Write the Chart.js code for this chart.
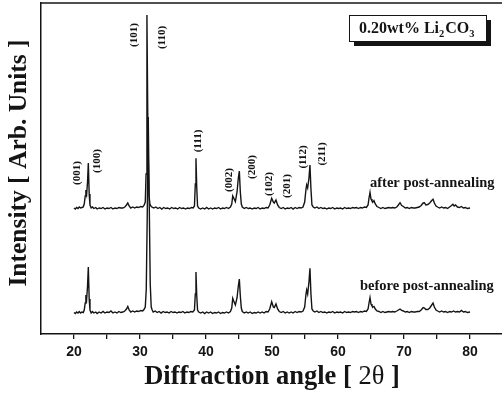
<!DOCTYPE html>
<html>
<head>
<meta charset="utf-8">
<script src="https://cdn.jsdelivr.net/npm/chart.js@4/dist/chart.umd.min.js"></script>
<style>
  html, body { margin: 0; padding: 0; background: #fff; overflow: hidden; width: 502px; height: 393px; }
  canvas { display: block; }
</style>
</head>
<body>
<canvas id="xrd" width="506" height="393"></canvas>
<script>
// 2θ (deg) vs. intensity (arb. units), 0.20 wt% Li2CO3 sample
const beforeTrace = [
  [20.0,21.5],[20.2,20.5],[20.4,22],[20.6,21],[20.8,22.5],[21.0,21],[21.2,22],[21.4,21.5],
  [21.55,24],[21.7,31],[21.8,39],[21.92,35],[22.05,48],[22.17,67],[22.3,35],[22.42,24],
  [22.6,21],[22.8,22.5],[23.0,21],[23.3,22],[23.5,20.5],[23.8,22],[24.1,21],[24.4,22.5],
  [24.7,21],[25.0,22],[25.3,21.5],[25.6,23],[25.9,21],[26.2,22],[26.5,21],[26.8,22.5],
  [27.1,21.5],[27.4,22],[27.7,23],[27.95,25],[28.15,27.5],[28.35,24],[28.6,22],[28.9,23],
  [29.2,22],[29.5,23],[29.8,22.5],[30.1,23.5],[30.4,23],[30.6,24.5],[30.8,27],[30.95,45],
  [31.1,120],[31.25,217],[31.4,130],[31.55,50],[31.7,27],[31.85,24],[32.0,22],[32.3,23],
  [32.6,21.5],[32.9,22.5],[33.2,21],[33.5,22.5],[33.8,21.5],[34.1,22],[34.4,21],[34.7,22.5],
  [35.0,21.5],[35.3,22],[35.6,21],[35.9,22],[36.2,21.5],[36.5,22.5],[36.8,21],[37.1,22],
  [37.4,21.5],[37.7,22.5],[38.0,22],[38.25,24],[38.38,40],[38.48,62],[38.6,38],[38.72,24],
  [38.9,22],[39.2,21],[39.5,22],[39.8,20.5],[40.1,22],[40.4,21],[40.7,22],[41.0,20.5],
  [41.3,21.5],[41.6,21],[41.9,22],[42.2,20.5],[42.5,21.5],[42.8,21],[43.1,22],[43.4,21],
  [43.7,22.5],[43.9,26],[44.05,35.7],[44.2,33],[44.45,29],[44.7,36],[44.9,48],[45.05,55],
  [45.2,38],[45.35,26],[45.5,22.5],[45.8,21],[46.1,22],[46.4,21],[46.7,22],[47.0,20.5],
  [47.3,21.5],[47.6,21],[47.9,22],[48.2,21],[48.5,22],[48.8,21],[49.1,22.5],[49.4,22],
  [49.65,25],[49.95,32.3],[50.2,27],[50.35,26.5],[50.6,30],[50.85,25],[51.1,22.5],[51.4,21.5],
  [51.7,22.5],[52.0,21],[52.3,22],[52.6,21],[52.9,22],[53.2,21],[53.5,22.5],[53.8,21.5],
  [54.1,22.5],[54.4,22],[54.7,23],[54.95,27],[55.15,40],[55.25,44],[55.4,40],[55.6,52],
  [55.75,65.7],[55.9,40],[56.05,25],[56.25,23],[56.5,22],[56.8,23],[57.1,21.5],[57.4,22.5],
  [57.7,21.5],[58.0,22],[58.3,21],[58.6,22],[58.9,21.5],[59.2,22.5],[59.5,21],[59.8,22],
  [60.1,21.5],[60.4,22],[60.7,21],[61.0,22.5],[61.3,21.5],[61.6,22],[61.9,21.5],[62.2,22.5],
  [62.5,22],[62.8,22.5],[63.1,21.5],[63.4,22.5],[63.7,22],[64.0,23],[64.3,22.5],[64.55,25],
  [64.7,31],[64.85,36.3],[65.0,30],[65.15,28],[65.3,27],[65.45,27.5],[65.65,25],[65.9,23],
  [66.2,22.5],[66.5,21.5],[66.8,22.5],[67.1,21.5],[67.4,22],[67.7,22.5],[68.0,22],[68.3,22.5],
  [68.6,22],[68.9,23],[69.15,24],[69.4,25],[69.65,23.5],[69.9,23],[70.2,22],[70.5,22.5],
  [70.8,21.5],[71.1,22.5],[71.4,22],[71.7,22],[72.0,22.5],[72.3,22.5],[72.6,24],[72.9,26.5],
  [73.1,26],[73.3,24.5],[73.6,24.5],[73.9,26],[74.2,29],[74.4,31],[74.6,27],[74.85,24],
  [75.1,23],[75.4,22],[75.7,23],[76.0,22],[76.3,22.5],[76.6,21.5],[76.9,22.5],[77.2,22],
  [77.5,23],[77.8,22],[78.1,22.5],[78.4,22],[78.7,23.5],[79.0,22],[79.3,22.5],[79.6,21.5],
  [80.0,22]
];

const afterTrace = [
  [20.0,126],[20.2,125],[20.4,126.5],[20.6,125.5],[20.8,127],[21.0,126],[21.2,126.5],[21.4,127],
  [21.55,130],[21.7,138],[21.8,144],[21.92,140],[22.05,152],[22.17,171],[22.3,140],[22.42,129],
  [22.6,126],[22.8,127],[23.0,125.5],[23.3,126.5],[23.5,125],[23.8,126],[24.1,125.5],[24.4,126.5],
  [24.7,125],[25.0,126],[25.3,125.5],[25.6,126.5],[25.9,125],[26.2,126],[26.5,125.5],[26.8,126.5],
  [27.1,126],[27.4,126],[27.7,127],[27.95,129],[28.15,131],[28.35,128],[28.6,126],[28.9,127],
  [29.2,126],[29.5,127],[29.8,126.5],[30.1,127.5],[30.4,127],[30.6,128.5],[30.8,132],[30.92,160],
  [31.05,319],[31.2,200],[31.35,140],[31.5,130],[31.7,127.5],[31.9,126.5],[32.1,126],[32.4,127],
  [32.7,125.5],[33.0,126.5],[33.3,125],[33.6,126.5],[33.9,125.5],[34.2,126],[34.5,125],[34.8,126.5],
  [35.1,125.5],[35.4,126],[35.7,125],[36.0,126.5],[36.3,125.5],[36.6,126],[36.9,125],[37.2,126],
  [37.5,125.5],[37.8,126.5],[38.05,126],[38.25,128],[38.38,150],[38.48,175.7],[38.6,146],[38.72,128],
  [38.9,126],[39.2,125],[39.5,126],[39.8,125],[40.1,126.5],[40.4,125],[40.7,126],[41.0,125],
  [41.3,126],[41.6,125.5],[41.9,126.5],[42.2,125],[42.5,126],[42.8,125.5],[43.1,126.5],[43.4,125.5],
  [43.7,127],[43.9,130],[44.05,138],[44.2,136],[44.45,132.3],[44.7,142],[44.9,156],[45.05,163],
  [45.2,142],[45.35,130],[45.5,127],[45.8,125.5],[46.1,126.5],[46.4,125.5],[46.7,126],[47.0,125],
  [47.3,126],[47.6,125.5],[47.9,126.5],[48.2,125],[48.5,126],[48.8,125.5],[49.1,126.5],[49.4,126],
  [49.65,129],[49.95,135.7],[50.2,132],[50.35,131],[50.6,134],[50.85,129],[51.1,126.5],[51.4,125.5],
  [51.7,126.5],[52.0,125],[52.3,126],[52.6,125.5],[52.9,126.5],[53.2,125],[53.5,126.5],[53.8,125.5],
  [54.1,126.5],[54.4,126],[54.7,127],[54.95,132],[55.15,145],[55.25,149],[55.4,146],[55.6,156],
  [55.75,169],[55.9,145],[56.05,129],[56.25,127],[56.5,126],[56.8,127],[57.1,125.5],[57.4,126.5],
  [57.7,125.5],[58.0,126],[58.3,125],[58.6,126],[58.9,125.5],[59.2,126.5],[59.5,125],[59.8,126],
  [60.1,125.5],[60.4,126],[60.7,125],[61.0,126.5],[61.3,125.5],[61.6,126],[61.9,125.5],[62.2,126.5],
  [62.5,126],[62.8,126.5],[63.1,125.5],[63.4,126.5],[63.7,126],[64.0,127],[64.3,126.5],[64.55,129],
  [64.7,136],[64.85,141.7],[65.0,135],[65.15,133],[65.3,132],[65.45,133.3],[65.65,130],[65.9,127.5],
  [66.2,126.5],[66.5,125.5],[66.8,126.5],[67.1,125.5],[67.4,126],[67.7,126.5],[68.0,126],[68.3,126.5],
  [68.6,126],[68.9,127],[69.15,129],[69.4,131.3],[69.65,128.5],[69.9,127.5],[70.2,126],[70.5,126.5],
  [70.8,125.5],[71.1,126.5],[71.4,126],[71.7,126],[72.0,126.5],[72.3,127],[72.6,128.5],[72.9,131],
  [73.1,131.3],[73.3,129],[73.6,129.5],[73.9,131],[74.2,133.5],[74.4,134.7],[74.6,131],[74.85,128],
  [75.1,127],[75.4,126],[75.7,127],[76.0,126],[76.3,126.5],[76.6,125.5],[76.9,127],[77.2,128.5],
  [77.4,129.7],[77.6,128],[77.8,129],[78.1,127],[78.4,126.5],[78.7,127.5],[79.0,126],[79.3,126.5],
  [79.6,125.5],[80.0,126]
];

// Miller indices of the reflections
const hklLabels = ['(001)','(100)','(101)','(110)','(111)','(002)','(200)','(102)','(201)','(112)','(211)'];
const xTickLabels = [20, 30, 40, 50, 60, 70, 80];
const traceNames = ['after post-annealing', 'before post-annealing'];
const sampleName = ['0.20wt% Li', '2', 'CO', '3'];

// where each index label sits, in (2θ, intensity)
const hklAnchors = [
  [20.41,161],[23.53,173],[29.09,299],[33.29,296.5],[38.83,193],[43.53,154],
  [47.02,167],[49.59,150],[52.23,148],[54.74,177],[57.53,180]
];
const traceNameAnchors = [[64.85,146.7],[63.33,44]];

const INK = '#141414';
const SERIF = '"Liberation Serif", "Times New Roman", serif';

const decor = {
  id: 'decor',
  afterDraw(chart) {
    const { ctx, chartArea: a, scales: { x, y } } = chart;
    ctx.save();
    ctx.fillStyle = INK;
    ctx.strokeStyle = INK;

    // closing top edge of the frame
    ctx.lineWidth = 1.5;
    ctx.beginPath();
    ctx.moveTo(a.left, a.top);
    ctx.lineTo(a.right + 4, a.top);
    ctx.stroke();

    // Miller index labels, rotated
    ctx.font = 'bold 11px ' + SERIF;
    ctx.textAlign = 'center';
    ctx.textBaseline = 'middle';
    hklLabels.forEach((t, i) => {
      const px = x.getPixelForValue(hklAnchors[i][0]);
      const py = y.getPixelForValue(hklAnchors[i][1]);
      ctx.save();
      ctx.translate(px, py);
      ctx.rotate(-Math.PI / 2);
      ctx.fillText(t, 0, 0);
      ctx.restore();
    });

    // trace captions
    ctx.font = 'bold 14.5px ' + SERIF;
    ctx.textAlign = 'left';
    ctx.textBaseline = 'alphabetic';
    traceNames.forEach((t, i) => {
      ctx.fillText(t, x.getPixelForValue(traceNameAnchors[i][0]), y.getPixelForValue(traceNameAnchors[i][1]));
    });

    // sample box with drop shadow
    const bx = a.left + 308, by = a.top + 12, bw = 137, bh = 26;
    ctx.fillRect(bx + 5, by + 5, bw, bh);
    ctx.fillStyle = '#fff';
    ctx.fillRect(bx, by, bw, bh);
    ctx.lineWidth = 1;
    ctx.strokeRect(bx + 0.5, by + 0.5, bw, bh);
    ctx.fillStyle = INK;
    let tx = bx + 10;
    const base = by + 17.5;
    const big = 'bold 16px ' + SERIF, small = 'bold 10.5px ' + SERIF;
    sampleName.forEach((t, i) => {
      const sub = i % 2 === 1;
      ctx.font = sub ? small : big;
      ctx.fillText(t, tx, sub ? base + 4 : base);
      tx += ctx.measureText(t).width + (sub ? 1 : 0);
    });

    // axis titles
    ctx.font = 'bold 25.5px ' + SERIF;
    ctx.textAlign = 'center';
    ctx.save();
    ctx.translate(26, 163);
    ctx.rotate(-Math.PI / 2);
    ctx.fillText('Intensity [ Arb. Units ]', 0, 0);
    ctx.restore();

    const parts = [['Diffraction angle [ ', 'bold 26.5px '], ['2θ', '26.5px '], [' ]', 'bold 26.5px ']];
    let total = 0;
    parts.forEach(p => { ctx.font = p[1] + SERIF; total += ctx.measureText(p[0]).width; });
    let cx = 272 - total / 2;
    ctx.textAlign = 'left';
    parts.forEach(p => {
      ctx.font = p[1] + SERIF;
      ctx.fillText(p[0], cx, 384);
      cx += ctx.measureText(p[0]).width;
    });
    ctx.restore();
  }
};

const toPoints = arr => arr.map(([a, b]) => ({ x: a, y: b }));

new Chart(document.getElementById('xrd'), {
  type: 'line',
  data: {
    datasets: [
      { label: traceNames[1], data: toPoints(beforeTrace) },
      { label: traceNames[0], data: toPoints(afterTrace) }
    ].map(d => Object.assign(d, {
      borderColor: INK, borderWidth: 1.4, pointRadius: 0, tension: 0, fill: false
    }))
  },
  options: {
    responsive: false,
    animation: false,
    devicePixelRatio: 1,
    layout: { padding: { top: 3, right: 2, left: 0, bottom: 0 } },
    plugins: { legend: { display: false }, tooltip: { enabled: false } },
    scales: {
      x: {
        type: 'linear', min: 15, max: 85.15,
        afterFit: s => { s.height = 59; },
        afterBuildTicks: s => { s.ticks = s.ticks.filter(t => t.value % 5 === 0 && t.value >= 20 && t.value <= 80); },
        ticks: {
          stepSize: 5, padding: 5, color: INK,
          font: { family: '"Liberation Sans", Arial, sans-serif', size: 14, weight: 'bold' },
          callback: v => xTickLabels.includes(v) ? String(v) : ''
        },
        grid: { drawOnChartArea: false, drawTicks: true, tickLength: 5, color: INK, lineWidth: 1.3 },
        border: { color: INK, width: 1.5 }
      },
      y: {
        type: 'linear', min: 0, max: 331,
        afterFit: s => { s.width = 41; },
        ticks: { display: false },
        grid: { drawOnChartArea: false, drawTicks: false },
        border: { color: INK, width: 1.5 }
      }
    }
  },
  plugins: [decor]
});
</script>
</body>
</html>
